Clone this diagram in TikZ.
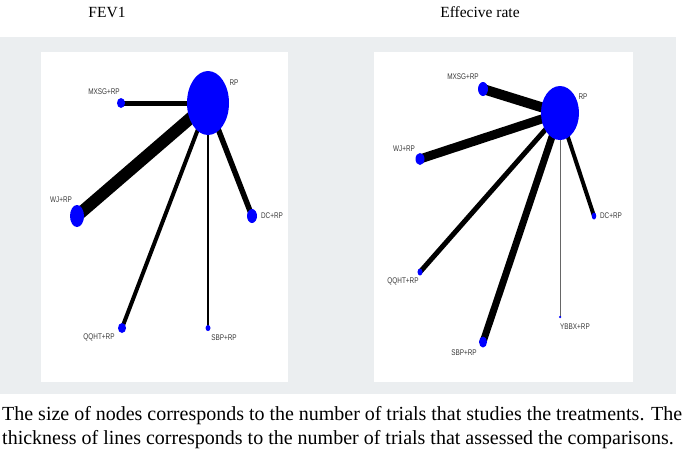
\documentclass[tikz,border=0pt]{standalone}
\usepackage{fontspec}
\usepackage{graphicx}
\setmainfont{Liberation Serif}
\newfontfamily\lblfont{Liberation Sans}
\usetikzlibrary{shapes.geometric}
\pgfdeclarelayer{bg}
\pgfdeclarelayer{edge}
\pgfsetlayers{bg,edge,main}
\definecolor{panelgray}{HTML}{EBEEF0}
\definecolor{nodeblue}{HTML}{0000FF}
\definecolor{lblgray}{HTML}{3A3A3A}
\newcommand\lbltxt[1]{\scalebox{0.78}[1]{#1}}
\tikzset{
  nd/.style={ellipse, fill=nodeblue, draw=none, inner sep=0pt},
  lbl/.style={font=\lblfont\fontsize{8.2}{9}\selectfont, text=lblgray, inner sep=0pt},
  edg/.style={draw=black, line cap=butt},
  ttl/.style={font=\fontsize{15.5}{17}\selectfont, inner sep=0pt},
  captxt/.style={font=\fontsize{20}{24}\selectfont, inner sep=0pt, anchor=base west},
}
\begin{document}
\begin{tikzpicture}[x=1pt,y=-1pt]
\useasboundingbox (0,0) rectangle (685,466);
\begin{pgfonlayer}{bg}
\fill[white] (0,0) rectangle (685,466);
\fill[panelgray] (0,37) rectangle (676,394);
\fill[white] (41,52) rectangle (288,382);
\fill[white] (374,52) rectangle (633,382);
\end{pgfonlayer}
% titles
\node[ttl] (t1) at (107,12) {FEV1};
\node[ttl] (t2) at (480,12) {Effecive rate};
% ---------- left graph ----------
\node[nd, minimum width=42pt, minimum height=64pt] (L-rp) at (208,103) {};
\node[nd, minimum width=8pt, minimum height=10pt] (L-mx) at (121,103) {};
\node[nd, minimum width=14pt, minimum height=22pt] (L-wj) at (77,216) {};
\node[nd, minimum width=10pt, minimum height=14pt] (L-dc) at (252,216) {};
\node[nd, minimum width=8pt, minimum height=10pt] (L-qq) at (122,328) {};
\node[nd, minimum width=5pt, minimum height=6pt] (L-sb) at (208,328) {};
\node[lbl] (L-rpl) at (234,83) {\lbltxt{RP}};
\node[lbl] (L-mxl) at (104,92) {\lbltxt{MXSG+RP}};
\node[lbl] (L-wjl) at (61,200) {\lbltxt{WJ+RP}};
\node[lbl] (L-dcl) at (272,216) {\lbltxt{DC+RP}};
\node[lbl] (L-qql) at (99,337) {\lbltxt{QQHT+RP}};
\node[lbl] (L-sbl) at (224,338) {\lbltxt{SBP+RP}};
\begin{pgfonlayer}{edge}
\draw[edg, line width=5pt] (L-rp.center) -- (L-mx.center);
\draw[edg, line width=12pt] (L-rp.center) -- (L-wj.center);
\draw[edg, line width=5.5pt] (L-rp.center) -- (L-dc.center);
\draw[edg, line width=4pt] (L-rp.center) -- (L-qq.center);
\draw[edg, line width=2pt] (L-rp.center) -- (L-sb.center);
\end{pgfonlayer}
% ---------- right graph ----------
\node[nd, minimum width=38pt, minimum height=54pt] (R-rp) at (560,113) {};
\node[nd, minimum width=10pt, minimum height=14pt] (R-mx) at (483,89) {};
\node[nd, minimum width=9pt, minimum height=12pt] (R-wj) at (420,159) {};
\node[nd, minimum width=4.5pt, minimum height=7pt] (R-dc) at (594,216) {};
\node[nd, minimum width=5pt, minimum height=7pt] (R-qq) at (420,272) {};
\node[nd, minimum width=2.5pt, minimum height=2.5pt] (R-yb) at (560,317) {};
\node[nd, minimum width=8pt, minimum height=11pt] (R-sb) at (483,342) {};
\node[lbl] (R-rpl) at (583,97) {\lbltxt{RP}};
\node[lbl] (R-mxl) at (463,77) {\lbltxt{MXSG+RP}};
\node[lbl] (R-wjl) at (404,149) {\lbltxt{WJ+RP}};
\node[lbl] (R-dcl) at (611,216) {\lbltxt{DC+RP}};
\node[lbl] (R-qql) at (403,281) {\lbltxt{QQHT+RP}};
\node[lbl] (R-ybl) at (575,327) {\lbltxt{YBBX+RP}};
\node[lbl] (R-sbl) at (464,353) {\lbltxt{SBP+RP}};
\begin{pgfonlayer}{edge}
\draw[edg, line width=10pt] (R-rp.center) -- (R-mx.center);
\draw[edg, line width=9pt] (R-rp.center) -- (R-wj.center);
\draw[edg, line width=4pt] (R-rp.center) -- (R-dc.center);
\draw[edg, line width=5pt] (R-rp.center) -- (R-qq.center);
\draw[edg, line width=1pt, draw=gray!80!black] (R-rp.center) -- (R-yb.center);
\draw[edg, line width=7pt] (R-rp.center) -- (R-sb.center);
\end{pgfonlayer}
% caption
\node[captxt] (cap1) at (2,420)
  {\makebox[680pt][s]{The size of nodes corresponds to the number of trials that studies the treatments. The}};
\node[captxt] (cap2) at (2,444)
  {thickness of lines corresponds to the number of trials that assessed the comparisons.};
\end{tikzpicture}
\end{document}
